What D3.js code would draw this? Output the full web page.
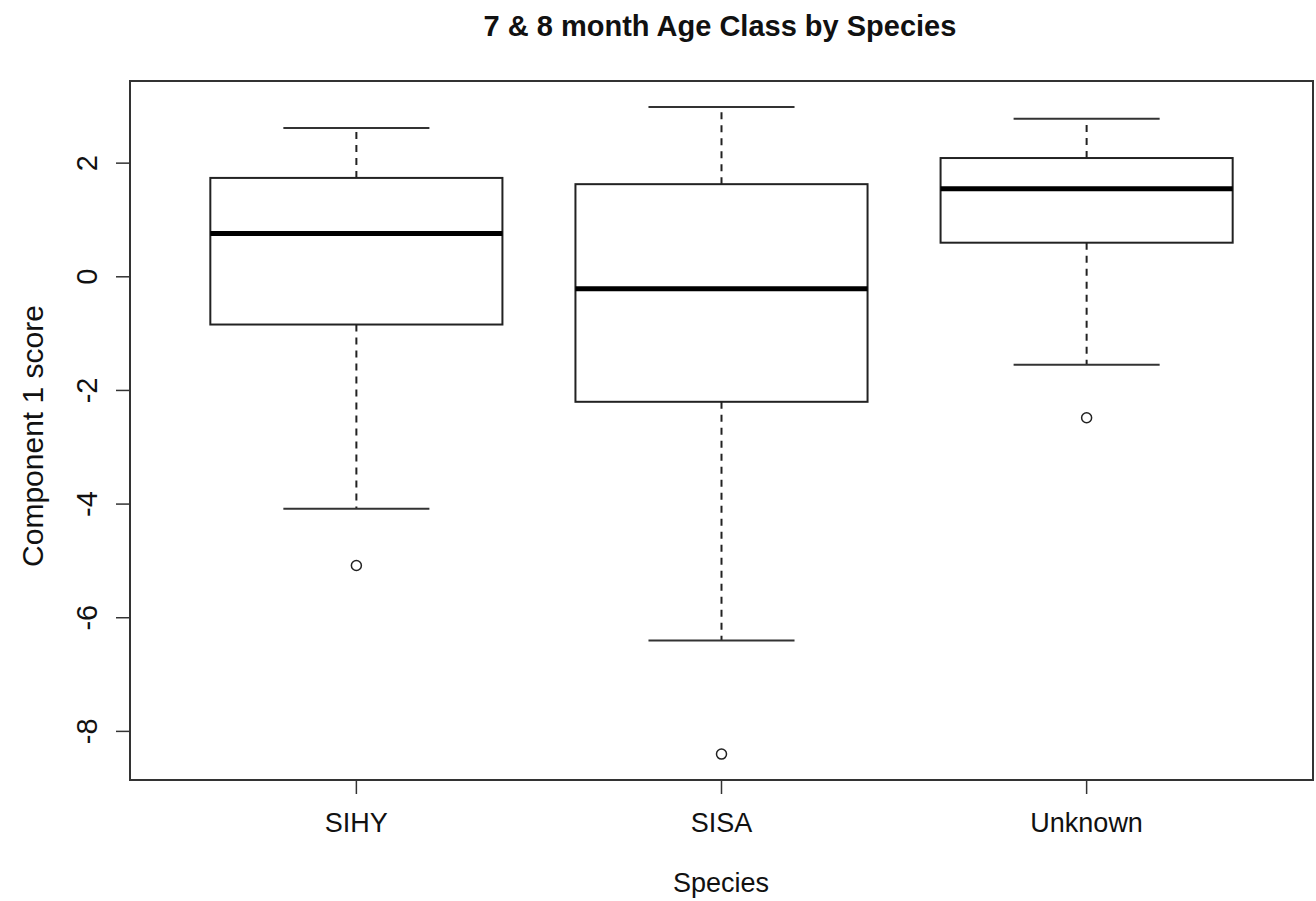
<!DOCTYPE html>
<meta charset="utf-8">
<style>
  body { margin: 0; background: #fff; }
  text { font-family: "Liberation Sans", Arial, sans-serif; fill: #111; }
  .frame { fill: none; stroke: #333; stroke-width: 2px; }
  .box { fill: #fff; stroke: #222; stroke-width: 2px; }
  .median { stroke: #000; stroke-width: 5px; }
  .whisker { stroke: #222; stroke-width: 2px; stroke-dasharray: 7,6; }
  .cap { stroke: #333; stroke-width: 2px; }
  .outlier { fill: none; stroke: #222; stroke-width: 1.5px; }
  .tick line { stroke: #333; stroke-width: 1.5px; }
</style>
<body>
<svg width="1316" height="901"></svg>
<script src="https://d3js.org/d3.v7.min.js"></script>
<script>

// box stats
var species  = ["SIHY", "SISA", "Unknown"];
var lowWhisk = [-4.08, -6.40, -1.55];
var q1       = [-0.84, -2.20,  0.60];
var medians  = [ 0.76, -0.21,  1.55];
var q3       = [ 1.74,  1.63,  2.09];
var hiWhisk  = [ 2.62,  2.99,  2.78];
var outliers = [[-5.08], [-8.40], [-2.48]];
var yTicks   = [-8, -6, -4, -2, 0, 2];

var boxes = species.map(function(s, i) {
  return { name: s, i: i + 1, lo: lowWhisk[i], q1: q1[i], med: medians[i],
           q3: q3[i], hi: hiWhisk[i], out: outliers[i] };
});

var svg = d3.select("svg");
var plotL = 130, plotR = 1313, plotT = 81, plotB = 780;

// R style 4% range extension
var allVals = d3.merge([lowWhisk, hiWhisk, d3.merge(outliers)]);
var ymin = d3.min(allVals), ymax = d3.max(allVals);
var pad = (ymax - ymin) * 0.04;
var y = d3.scaleLinear().domain([ymin - pad, ymax + pad]).range([plotB, plotT]);
var x = d3.scaleLinear().domain([0.5 - 0.12, species.length + 0.5 + 0.12]).range([plotL, plotR]);

var halfBox = 0.4, halfCap = 0.2;

var g = svg.append("g");

boxes.forEach(function(d) {
  // whiskers
  g.append("line").attr("class", "whisker")
    .attr("x1", x(d.i)).attr("x2", x(d.i))
    .attr("y1", y(d.q3)).attr("y2", y(d.hi));
  g.append("line").attr("class", "whisker")
    .attr("x1", x(d.i)).attr("x2", x(d.i))
    .attr("y1", y(d.q1)).attr("y2", y(d.lo));
  // caps
  [d.lo, d.hi].forEach(function(v) {
    g.append("line").attr("class", "cap")
      .attr("x1", x(d.i - halfCap)).attr("x2", x(d.i + halfCap))
      .attr("y1", y(v)).attr("y2", y(v));
  });
  // box
  g.append("rect").attr("class", "box")
    .attr("x", x(d.i - halfBox))
    .attr("width", x(d.i + halfBox) - x(d.i - halfBox))
    .attr("y", y(d.q3))
    .attr("height", y(d.q1) - y(d.q3));
  g.append("line").attr("class", "median")
    .attr("x1", x(d.i - halfBox)).attr("x2", x(d.i + halfBox))
    .attr("y1", y(d.med)).attr("y2", y(d.med));
  // outliers
  g.selectAll(null).data(d.out).enter().append("circle")
    .attr("class", "outlier")
    .attr("cx", x(d.i)).attr("cy", function(v) { return y(v); })
    .attr("r", 5);
});

svg.append("rect").attr("class", "frame")
  .attr("x", plotL).attr("y", plotT)
  .attr("width", plotR - plotL).attr("height", plotB - plotT);

// x axis
var xAxis = svg.append("g").attr("class", "tick");
boxes.forEach(function(d) {
  xAxis.append("line")
    .attr("x1", x(d.i)).attr("x2", x(d.i))
    .attr("y1", plotB).attr("y2", plotB + 14);
  xAxis.append("text")
    .attr("x", x(d.i)).attr("y", 832)
    .attr("text-anchor", "middle")
    .style("font-size", "27px")
    .text(d.name);
});

// y axis (labels parallel to axis, like R)
var yAxis = svg.append("g").attr("class", "tick");
yTicks.forEach(function(t) {
  yAxis.append("line")
    .attr("x1", plotL - 14).attr("x2", plotL)
    .attr("y1", y(t)).attr("y2", y(t));
  yAxis.append("text")
    .attr("transform", "translate(97," + y(t) + ") rotate(-90)")
    .attr("text-anchor", "middle")
    .style("font-size", "29px")
    .text(t);
});

svg.append("text")
  .attr("transform", "translate(43,436) rotate(-90)")
  .attr("text-anchor", "middle")
  .style("font-size", "30px")
  .text("Component 1 score");

svg.append("text")
  .attr("x", 721).attr("y", 892)
  .attr("text-anchor", "middle")
  .style("font-size", "27px")
  .text("Species");

svg.append("text")
  .attr("x", 720).attr("y", 36)
  .attr("text-anchor", "middle")
  .style("font-size", "29px")
  .style("font-weight", "bold")
  .text("7 & 8 month Age Class by Species");

</script>
</body>
